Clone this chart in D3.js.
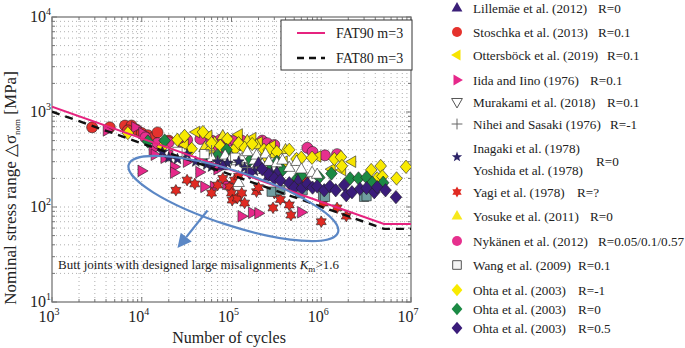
<!DOCTYPE html>
<html>
<head>
<meta charset="utf-8">
<script src="https://cdn.jsdelivr.net/npm/d3@7"></script>
<style>
    body { margin: 0; background: #fff; }
    svg { font-family: "Times New Roman", "Liberation Serif", Times, serif; }
</style>
</head>
<body>
<div id="chart"></div>
<script>
// ---- data (cycles N, stress range MPa) ----
const lillemae = [[8e4, 270], [2e5, 290], [2.6e5, 210], [3.2e5, 230], [5.5e5, 190]];
const stoschka = [[2.8e3, 690], [4.4e3, 690], [6.5e3, 720], [7.7e3, 720], [8.8e3, 650], [7e3, 640], [1e4, 600],
    [1.17e4, 570], [1.3e4, 530], [1.5e4, 610], [2e4, 500]];
const ottersbock = [[3e4, 450], [4e4, 615], [5.5e4, 560], [1.2e5, 580], [1.7e5, 530], [2e5, 480], [2.8e5, 440],
    [3.8e5, 300], [9e5, 340], [1.3e6, 250], [1.7e6, 245], [2.2e6, 300]];
const iida = [[4.1e3, 640], [8.5e3, 690], [1.02e4, 600], [1.33e4, 400], [1.4e4, 355], [1.8e4, 330], [2.2e4, 355],
    [2.3e4, 265], [2.3e4, 230], [1e4, 240], [3.2e4, 300], [4.4e4, 233], [5e4, 163], [6.4e4, 163], [7e4, 250],
    [8.8e4, 175], [1.3e5, 80], [1.7e5, 87], [2e5, 86], [6e5, 88]];
const murakami = [[6e4, 330], [7e4, 300], [8.5e4, 350], [1e5, 330], [1.15e5, 305], [1.2e5, 180], [1.3e5, 320],
    [1.5e5, 380], [1.8e5, 310], [1.9e5, 350], [2.2e5, 280], [2.4e5, 360], [2.6e5, 300], [3.2e5, 290], [3.7e5, 310],
    [4.4e5, 260], [5.3e5, 300], [6e5, 250], [7.9e5, 230], [9e5, 220]];
const nihei = [[6e4, 390], [1.5e5, 260]];
const inagaki = [[1.7e4, 380], [2e4, 330], [2.5e4, 320], [3.2e4, 360], [4e4, 300], [5.3e4, 280], [6e4, 265],
    [7e4, 300], [9e4, 290], [1.2e5, 300], [1.4e5, 260], [1.8e5, 240], [2.2e5, 250], [2.8e5, 230]];
const yagi = [[2.4e4, 150], [3.2e4, 192], [3.9e4, 175], [6e4, 140], [7e4, 170], [8e4, 200], [9.5e4, 163],
    [1e5, 140], [1.02e5, 118], [1.08e5, 192], [1.16e5, 124], [1.2e5, 210], [1.3e5, 140], [1.4e5, 110],
    [1.9e5, 145], [2e5, 160], [2.9e5, 98], [3e5, 140], [3.5e5, 120], [4.4e5, 105], [4.6e5, 82], [5e5, 180],
    [6.5e5, 190], [1e6, 70], [1.05e6, 110], [1.5e6, 98], [1.9e6, 80]];
const yosuke = [[5e4, 420], [6.5e4, 480], [8e4, 560], [1.1e5, 430], [1.5e5, 500], [1.9e5, 450], [2.2e5, 330],
    [3e5, 360], [4e5, 400]];
const nykanen = [[1.1e4, 540], [1.5e4, 470], [2e4, 480], [2.8e4, 480], [3.2e4, 510], [4.5e4, 520], [6e4, 500],
    [6.5e4, 430], [7.5e4, 510], [8e4, 420], [9.5e4, 500], [1.1e5, 500], [1.3e5, 500], [1.7e5, 470], [2.2e5, 500],
    [2.5e5, 470], [3e5, 450], [7e5, 420], [8e5, 380], [1.1e6, 350], [1.5e6, 360]];
const wangOpen = [[2.5e4, 380], [5e4, 360], [1.1e5, 330]];
const wangGrey = [[2.8e5, 145], [3.5e5, 150], [5.8e5, 140], [6.2e5, 150], [1.05e6, 130], [1.1e6, 128],
    [3e6, 128], [3.2e6, 130]];
const ohtaM1 = [[7e3, 600], [1.7e4, 430], [2.5e4, 510], [3e4, 560], [3.6e4, 410], [4.8e4, 615], [5.7e4, 390],
    [6e4, 470], [7.5e4, 440], [9e4, 520], [1.07e5, 400], [1.2e5, 470], [1.4e5, 420], [1.7e5, 460], [2.3e5, 400],
    [2.6e5, 400], [3.2e5, 380], [4.4e5, 400], [5.3e5, 320], [6e5, 330], [7.9e5, 330], [1.4e6, 320],
    [1.66e6, 335], [1.7e6, 270], [3.6e6, 245], [4.2e6, 200], [4.6e6, 270], [4.8e6, 210], [6.9e6, 200],
    [8.8e6, 265]];
const ohta0 = [[1.17e4, 490], [1.8e4, 500], [5.4e4, 330], [7e4, 350], [8.8e4, 400], [1e5, 330], [1.6e5, 310],
    [2.5e5, 270], [3.2e5, 300], [3.7e5, 245], [5.4e5, 200], [6e5, 215], [9.5e5, 205], [1.3e6, 225], [2.1e6, 200],
    [2.6e6, 200], [3.2e6, 205], [3.7e6, 180], [4.9e6, 180]];
const ohta05 = [[1.6e5, 230], [2.2e5, 250], [2.6e5, 220], [3e5, 200], [3.5e5, 190], [4.4e5, 178], [5e5, 160],
    [6.1e5, 158], [7e5, 175], [8e5, 160], [9e5, 165], [1.08e6, 150], [1.25e6, 165], [1.45e6, 150], [1.8e6, 170],
    [1.9e6, 133], [2.2e6, 143], [2.7e6, 155], [3.2e6, 158], [3.9e6, 143], [4.2e6, 162], [5.2e6, 150],
    [6.8e6, 127]];

// design curves
const fat90 = [[1e3, 1134], [5e6, 66.3], [1e7, 66.3]];
const fat80 = [[1e3, 1008], [5e6, 58.9], [1e7, 58.9]];

const legendNames = ["Lillemäe et al. (2012)", "Stoschka et al. (2013)", "Ottersböck et al. (2019)",
    "Iida and Iino (1976)", "Murakami et al. (2018)", "Nihei and Sasaki (1976)", "Inagaki et al. (1978)",
    "Yagi et al. (1978)", "Yosuke et al. (2011)", "Nykänen et al. (2012)", "Wang et al. (2009)",
    "Ohta et al. (2003)", "Ohta et al. (2003)", "Ohta et al. (2003)"];
const legendR = ["R=0", "R=0.1", "R=0.1", "R=0.1", "R=0.1", "R=-1", "R=0", "R=?", "R=0", "R=0.05/0.1/0.57",
    "R=0.1", "R=-1", "R=0", "R=0.5"];

// series styling: data, marker shape, fill
const series = [
    {data: stoschka, shape: "circle", fill: "#e5322d"},
    {data: iida, shape: "triRight", fill: "#e6288a"},
    {data: yagi, shape: "hexagram", fill: "#e02a22"},
    {data: nykanen, shape: "circle", fill: "#e6308e"},
    {data: ottersbock, shape: "triLeft", fill: "#f7e400"},
    {data: yosuke, shape: "triUp", fill: "#f7e81c"},
    {data: ohtaM1, shape: "diamond", fill: "#f8ea00"},
    {data: ohta0, shape: "diamond", fill: "#1b8a44"},
    {data: murakami, shape: "triUp", fill: "#ffffff"},
    {data: wangOpen, shape: "square", fill: "#ffffff"},
    {data: wangGrey, shape: "square", fill: "#6f9ea0"},
    {data: inagaki, shape: "star5", fill: "#2d2468"},
    {data: lillemae, shape: "triUp", fill: "#3b1f78"},
    {data: ohta05, shape: "diamond", fill: "#3a1c7a"},
    {data: nihei, shape: "plus", fill: "#666"}
];
// legend markers (same order as legendNames)
const legendShapes = ["triUp", "circle", "triLeft", "triRight", "triDown", "plus", "star5", "hexagram", "triUp",
    "circle", "square", "diamond", "diamond", "diamond"];
const legendFills = ["#3b1f78", "#e5322d", "#f7e400", "#e6288a", "#ffffff", "#666", "#2d2468", "#e02a22",
    "#f7e81c", "#e6308e", "#f4f4f4", "#f8ea00", "#1b8a44", "#3a1c7a"];

// ---- marker geometry ----
function poly(pts) {
    return "M" + pts.map(p => p[0].toFixed(2) + "," + p[1].toFixed(2)).join("L") + "Z";
}
function markerPath(shape, r) {
    const k = Math.PI / 180;
    switch (shape) {
        case "circle": return d3.symbol(d3.symbolCircle, Math.PI * r * r)();
        case "triUp": return poly([[0, -r * 1.1], [r, r * 0.65], [-r, r * 0.65]]);
        case "triDown": return poly([[0, r * 1.1], [r, -r * 0.65], [-r, -r * 0.65]]);
        case "triLeft": return poly([[-r * 1.1, 0], [r * 0.65, -r], [r * 0.65, r]]);
        case "triRight": return poly([[r * 1.1, 0], [-r * 0.65, -r], [-r * 0.65, r]]);
        case "diamond": return poly([[0, -r * 1.15], [r * 1.0, 0], [0, r * 1.15], [-r * 1.0, 0]]);
        case "square": return poly([[-r * 0.8, -r * 0.8], [r * 0.8, -r * 0.8], [r * 0.8, r * 0.8], [-r * 0.8, r * 0.8]]);
        case "star5": {
            const pts = d3.range(10).map(i => {
                const rr = i % 2 ? r * 0.42 : r;
                const a = (i * 36 - 90) * k;
                return [rr * Math.cos(a), rr * Math.sin(a)];
            });
            return poly(pts);
        }
        case "hexagram": {
            const pts = d3.range(12).map(i => {
                const rr = i % 2 ? r * 0.58 : r;
                const a = (i * 30 - 90) * k;
                return [rr * Math.cos(a), rr * Math.sin(a)];
            });
            return poly(pts);
        }
        case "plus": return `M${-r},0H${r}M0,${-r}V${r}`;
    }
}

// ---- layout ----
const W = 685, H = 348;
const plot = {left: 52, right: 411, top: 17, bottom: 302};

const svg = d3.select("#chart").append("svg")
    .attr("width", W)
    .attr("height", H);

const x = d3.scaleLog().domain([1e3, 1e7]).range([plot.left, plot.right]);
const y = d3.scaleLog().domain([10, 1e4]).range([plot.bottom, plot.top]);

// grid values (every 1..9 x decade)
const xGrid = [], yGrid = [];
for (let e = 3; e < 7; e++) for (let m = 1; m < 10; m++) xGrid.push(m * Math.pow(10, e));
xGrid.push(1e7);
for (let e = 1; e < 4; e++) for (let m = 1; m < 10; m++) yGrid.push(m * Math.pow(10, e));
yGrid.push(1e4);

const grid = svg.append("g")
    .attr("stroke", "#9a9a9a")
    .attr("stroke-width", 0.8)
    .attr("stroke-dasharray", "1,3");
grid.selectAll(".gx").data(xGrid.slice(1, -1)).join("line")
    .attr("x1", d => x(d)).attr("x2", d => x(d))
    .attr("y1", plot.top).attr("y2", plot.bottom);
grid.selectAll(".gy").data(yGrid.slice(1, -1)).join("line")
    .attr("x1", plot.left).attr("x2", plot.right)
    .attr("y1", d => y(d)).attr("y2", d => y(d));

// inward ticks on all four sides
const isMajor = v => Math.abs(Math.log10(v) - Math.round(Math.log10(v))) < 1e-9;
const ticks = svg.append("g").attr("stroke", "#777").attr("stroke-width", 1);
xGrid.forEach(v => {
    const len = isMajor(v) ? 5 : 3;
    ticks.append("line").attr("x1", x(v)).attr("x2", x(v)).attr("y1", plot.bottom).attr("y2", plot.bottom - len);
    ticks.append("line").attr("x1", x(v)).attr("x2", x(v)).attr("y1", plot.top).attr("y2", plot.top + len);
});
yGrid.forEach(v => {
    const len = isMajor(v) ? 5 : 3;
    ticks.append("line").attr("y1", y(v)).attr("y2", y(v)).attr("x1", plot.left).attr("x2", plot.left + len);
    ticks.append("line").attr("y1", y(v)).attr("y2", y(v)).attr("x1", plot.right).attr("x2", plot.right - len);
});

svg.append("rect")
    .attr("x", plot.left).attr("y", plot.top)
    .attr("width", plot.right - plot.left).attr("height", plot.bottom - plot.top)
    .attr("fill", "none").attr("stroke", "#777").attr("stroke-width", 1.3);

// tick labels 10^n
function powLabel(g, v) {
    g.append("tspan").text("10");
    g.append("tspan").attr("dy", -7).attr("font-size", 10).text(Math.round(Math.log10(v)));
}
[1e3, 1e4, 1e5, 1e6, 1e7].forEach(v => {
    const t = svg.append("text").attr("x", x(v) - 3).attr("y", plot.bottom + 20)
        .attr("font-size", 16).attr("text-anchor", "middle").attr("fill", "#222");
    powLabel(t, v);
});
[10, 100, 1000, 1e4].forEach(v => {
    const t = svg.append("text").attr("x", plot.left - 1).attr("y", y(v) + 5)
        .attr("font-size", 16).attr("text-anchor", "end").attr("fill", "#222");
    powLabel(t, v);
});

// axis titles
svg.append("text")
    .attr("x", 229).attr("y", 343)
    .attr("text-anchor", "middle").attr("font-size", 16).attr("fill", "#222")
    .text("Number of cycles");

const yl = svg.append("text")
    .attr("transform", "translate(16,188) rotate(-90)")
    .attr("text-anchor", "middle").attr("font-size", 17).attr("fill", "#222");
yl.append("tspan").text("Nominal stress range \u25B3\u03C3");
yl.append("tspan").attr("dy", 4).attr("font-size", 9).text("nom");
yl.append("tspan").attr("dy", -4).text(" [MPa]");

// ---- clip for plotted content ----
svg.append("clipPath").attr("id", "clip")
    .append("rect").attr("x", plot.left).attr("y", plot.top)
    .attr("width", plot.right - plot.left).attr("height", plot.bottom - plot.top);
const inner = svg.append("g").attr("clip-path", "url(#clip)");

const line = d3.line().x(d => x(d[0])).y(d => y(d[1]));

// data points
series.forEach(s => {
    inner.append("g").selectAll("path")
        .data(s.data)
        .join("path")
        .attr("transform", d => `translate(${x(d[0])},${y(d[1])})`)
        .attr("d", markerPath(s.shape, s.shape === "circle" ? 5.5 : 5.8))
        .attr("fill", s.shape === "plus" ? "none" : s.fill)
        .attr("stroke", s.shape === "plus" ? "#666" : "#222")
        .attr("stroke-width", s.shape === "plus" ? 1 : 0.6);
});

// FAT curves
inner.append("path").datum(fat80)
    .attr("d", line).attr("fill", "none")
    .attr("stroke", "#111").attr("stroke-width", 2.4).attr("stroke-dasharray", "8,6");
inner.append("path").datum(fat90)
    .attr("d", line).attr("fill", "none")
    .attr("stroke", "#e6237f").attr("stroke-width", 2);

// misalignment annotation
const blue = "#5b87c5";
const ellC = [1.05e5, 123];
inner.append("ellipse")
    .attr("transform", `translate(${x(ellC[0])},${y(ellC[1])}) rotate(18)`)
    .attr("rx", 110).attr("ry", 27)
    .attr("fill", "none").attr("stroke", blue).attr("stroke-width", 2.2);

const arrFrom = [5.4e4, 92], arrTo = [2.5e4, 37];
const ax0 = x(arrFrom[0]), ay0 = y(arrFrom[1]), ax1 = x(arrTo[0]), ay1 = y(arrTo[1]);
const ang = Math.atan2(ay1 - ay0, ax1 - ax0);
const hl = 14, hw = 7;
const bx = ax1 - hl * Math.cos(ang), by = ay1 - hl * Math.sin(ang);
inner.append("line")
    .attr("x1", ax0).attr("y1", ay0).attr("x2", bx).attr("y2", by)
    .attr("stroke", blue).attr("stroke-width", 2.2);
inner.append("path")
    .attr("d", poly([[ax1, ay1],
        [bx + hw * Math.sin(ang), by - hw * Math.cos(ang)],
        [bx - hw * Math.sin(ang), by + hw * Math.cos(ang)]]))
    .attr("fill", blue);

const note = svg.append("text")
    .attr("x", 58).attr("y", 269)
    .attr("font-size", 13).attr("fill", "#222");
note.append("tspan").text("Butt joints with designed large misalignments  ");
note.append("tspan").attr("font-style", "italic").text("K");
note.append("tspan").attr("dy", 3).attr("font-size", 9).text("m");
note.append("tspan").attr("dy", -3).text(">1.6");

// FAT legend box
const lb = svg.append("g").attr("transform", "translate(281,20)");
lb.append("rect").attr("width", 131).attr("height", 50)
    .attr("fill", "#fff").attr("stroke", "#333").attr("stroke-width", 1);
lb.append("line").attr("x1", 16).attr("x2", 44).attr("y1", 13).attr("y2", 13)
    .attr("stroke", "#e6237f").attr("stroke-width", 2);
lb.append("line").attr("x1", 16).attr("x2", 44).attr("y1", 38).attr("y2", 38)
    .attr("stroke", "#111").attr("stroke-width", 2.4).attr("stroke-dasharray", "7,5");
lb.append("text").attr("x", 55).attr("y", 18).attr("font-size", 14).attr("fill", "#222").text("FAT90 m=3");
lb.append("text").attr("x", 55).attr("y", 43).attr("font-size", 14).attr("fill", "#222").text("FAT80 m=3");

// right-hand legend
const rowY = [8, 32, 55, 80, 102, 124, 157, 192, 216, 241, 265, 290, 309, 328];
const rX = [598, 598, 607, 590, 607, 610, 596, 577, 590, 598, 578, 578, 578, 578];
const fs = 13.2;
const leg = svg.append("g");
legendNames.forEach((name, i) => {
    const yy = rowY[i];
    const sh = legendShapes[i];
    leg.append("path")
        .attr("transform", `translate(457,${yy})`)
        .attr("d", markerPath(sh, sh === "circle" ? 5 : 5.4))
        .attr("fill", sh === "plus" ? "none" : legendFills[i])
        .attr("stroke", sh === "plus" ? "#666" : (sh === "triDown" || sh === "square" ? "#555" : "none"))
        .attr("stroke-width", 1);
    if (i === 6) {
        leg.append("text").attr("x", 473).attr("y", 153).attr("font-size", fs).attr("fill", "#222").text(name);
        leg.append("text").attr("x", 473).attr("y", 175).attr("font-size", fs).attr("fill", "#222").text("Yoshida et al. (1978)");
        leg.append("text").attr("x", rX[i]).attr("y", 166).attr("font-size", fs).attr("fill", "#222").text(legendR[i]);
    } else {
        leg.append("text").attr("x", 473).attr("y", yy + 5).attr("font-size", fs).attr("fill", "#222").text(name);
        leg.append("text").attr("x", rX[i]).attr("y", yy + 5).attr("font-size", fs).attr("fill", "#222").text(legendR[i]);
    }
});
</script>
</body>
</html>
